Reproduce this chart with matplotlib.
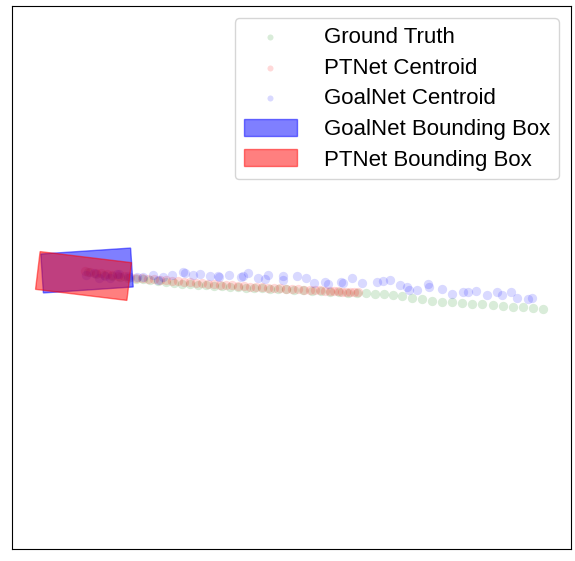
import matplotlib
matplotlib.use("Agg")
import matplotlib.pyplot as plt
from matplotlib.patches import Rectangle

plt.rcParams['font.family'] = ['Liberation Sans', 'DejaVu Sans']

# ground truth trajectory
gt_x = [7.6, 8.4, 9.2, 10.0, 10.8, 11.6, 12.4, 13.1, 13.8, 14.6, 15.4, 16.2, 17.0, 17.8,
        18.6, 19.4, 20.2, 21.0, 21.8, 22.6, 23.4, 24.2, 25.0, 25.8, 26.6, 27.4, 28.2, 29.1,
        30.0, 30.9, 31.8, 32.7, 33.6, 34.5, 35.4, 36.3, 37.2, 38.1, 39.0, 40.0, 41.0, 42.0,
        43.0, 44.0, 45.0, 46.0, 47.0, 48.1, 49.1, 50.1, 51.1, 52.1, 53.1]
gt_y = [27.7, 27.5, 27.4, 27.3, 27.2, 27.1, 27.0, 27.0, 26.9, 26.8, 26.7, 26.6, 26.5, 26.5,
        26.4, 26.4, 26.3, 26.3, 26.2, 26.2, 26.1, 26.1, 26.1, 26.0, 26.0, 26.0, 25.9, 25.9,
        25.8, 25.8, 25.7, 25.7, 25.6, 25.6, 25.6, 25.5, 25.5, 25.4, 25.3, 25.1, 25.0, 24.8,
        24.7, 24.7, 24.6, 24.5, 24.5, 24.4, 24.3, 24.2, 24.2, 24.1, 24.0]

# PTNet centroids
pt_x = [7.3, 7.8, 8.4, 8.9, 9.5, 10.0, 10.6, 11.2, 11.8, 12.4, 13.0, 13.6, 14.2, 14.8,
        15.4, 16.0, 16.6, 17.2, 17.8, 18.4, 19.0, 19.6, 20.2, 20.8, 21.4, 22.0, 22.6, 23.2,
        23.8, 24.4, 25.0, 25.6, 26.2, 26.8, 27.4, 28.0, 28.6, 29.2, 29.8, 30.3, 30.8, 31.3,
        31.8, 32.2, 32.6, 33.0, 33.4, 33.8, 34.2, 34.6]
pt_y = [27.8, 27.7, 27.6, 27.6, 27.5, 27.4, 27.3, 27.3, 27.2, 27.1, 27.1, 27.0, 27.0, 26.9,
        26.9, 26.8, 26.8, 26.7, 26.7, 26.6, 26.6, 26.5, 26.5, 26.4, 26.4, 26.4, 26.3, 26.3,
        26.2, 26.2, 26.2, 26.1, 26.1, 26.1, 26.0, 26.0, 26.0, 25.9, 25.9, 25.9, 25.9, 25.8,
        25.8, 25.8, 25.8, 25.7, 25.7, 25.7, 25.7, 25.7]

# GoalNet centroids
gn_x = [7.4, 8.2, 8.7, 9.3, 9.8, 10.5, 10.7, 11.6, 12.5, 13.1, 14.1, 14.6, 15.1, 16.0,
        17.1, 17.3, 18.1, 18.8, 19.8, 20.6, 20.7, 21.7, 22.9, 23.1, 23.6, 24.6, 25.3, 25.6,
        27.1, 27.1, 28.5, 29.4, 30.2, 31.3, 31.6, 32.9, 33.1, 34.0, 35.0, 36.5, 37.1, 37.8,
        38.8, 39.5, 39.7, 40.5, 41.6, 41.7, 43.0, 44.0, 45.1, 45.6, 46.4, 47.5, 48.5, 49.0,
        49.9, 50.5, 51.6, 52.0]
gn_y = [27.4, 27.6, 27.1, 27.3, 27.1, 27.5, 27.5, 27.3, 27.2, 27.2, 27.4, 26.9, 27.2, 27.4,
        27.7, 27.6, 27.4, 27.5, 27.3, 27.3, 27.2, 27.4, 27.2, 27.3, 27.6, 27.1, 27.0, 27.4,
        27.3, 26.9, 27.3, 27.1, 26.6, 26.7, 26.5, 26.7, 26.6, 27.1, 26.6, 26.7, 26.8, 26.9,
        26.4, 26.2, 25.9, 25.9, 26.5, 26.2, 26.0, 25.5, 25.7, 25.7, 25.8, 25.4, 25.7, 25.4,
        25.7, 25.1, 25.0, 25.1]

# bounding boxes: center x, center y, length, width, heading (deg)
goal_box = (7.5, 27.85, 9.0, 3.9, 3.8)
pt_box = (7.15, 27.3, 9.2, 3.8, -6.9)

fig = plt.figure(figsize=(5.75, 5.61), dpi=100)
ax = fig.add_axes([12 / 575, 12 / 561, 559 / 575, 543 / 561])

s_gt = ax.scatter(gt_x, gt_y, s=45, color='green', alpha=0.15, linewidths=0, label='Ground Truth')
s_pt = ax.scatter(pt_x, pt_y, s=45, color='red', alpha=0.15, linewidths=0, label='PTNet Centroid')
s_gn = ax.scatter(gn_x, gn_y, s=45, color='blue', alpha=0.15, linewidths=0, label='GoalNet Centroid')


def make_box(b, color, label):
    cx, cy, l, w, a = b
    return Rectangle((cx - l / 2, cy - w / 2), l, w, angle=a, rotation_point='center',
                     facecolor=color, edgecolor=color, alpha=0.5, label=label)


r_gn = ax.add_patch(make_box(goal_box, 'blue', 'GoalNet Bounding Box'))
r_pt = ax.add_patch(make_box(pt_box, 'red', 'PTNet Bounding Box'))

ax.set_xlim(0, 55.9)
ax.set_ylim(0, 54.3)
ax.set_xticks([])
ax.set_yticks([])

ax.legend(handles=[s_gt, s_pt, s_gn, r_gn, r_pt], loc='upper right', fontsize=16,
          markerscale=0.65, labelspacing=0.42, handlelength=2.4, handleheight=0.8,
          handletextpad=1.2, borderpad=0.4, borderaxespad=0.55)

fig.savefig('out.png', dpi=100)
